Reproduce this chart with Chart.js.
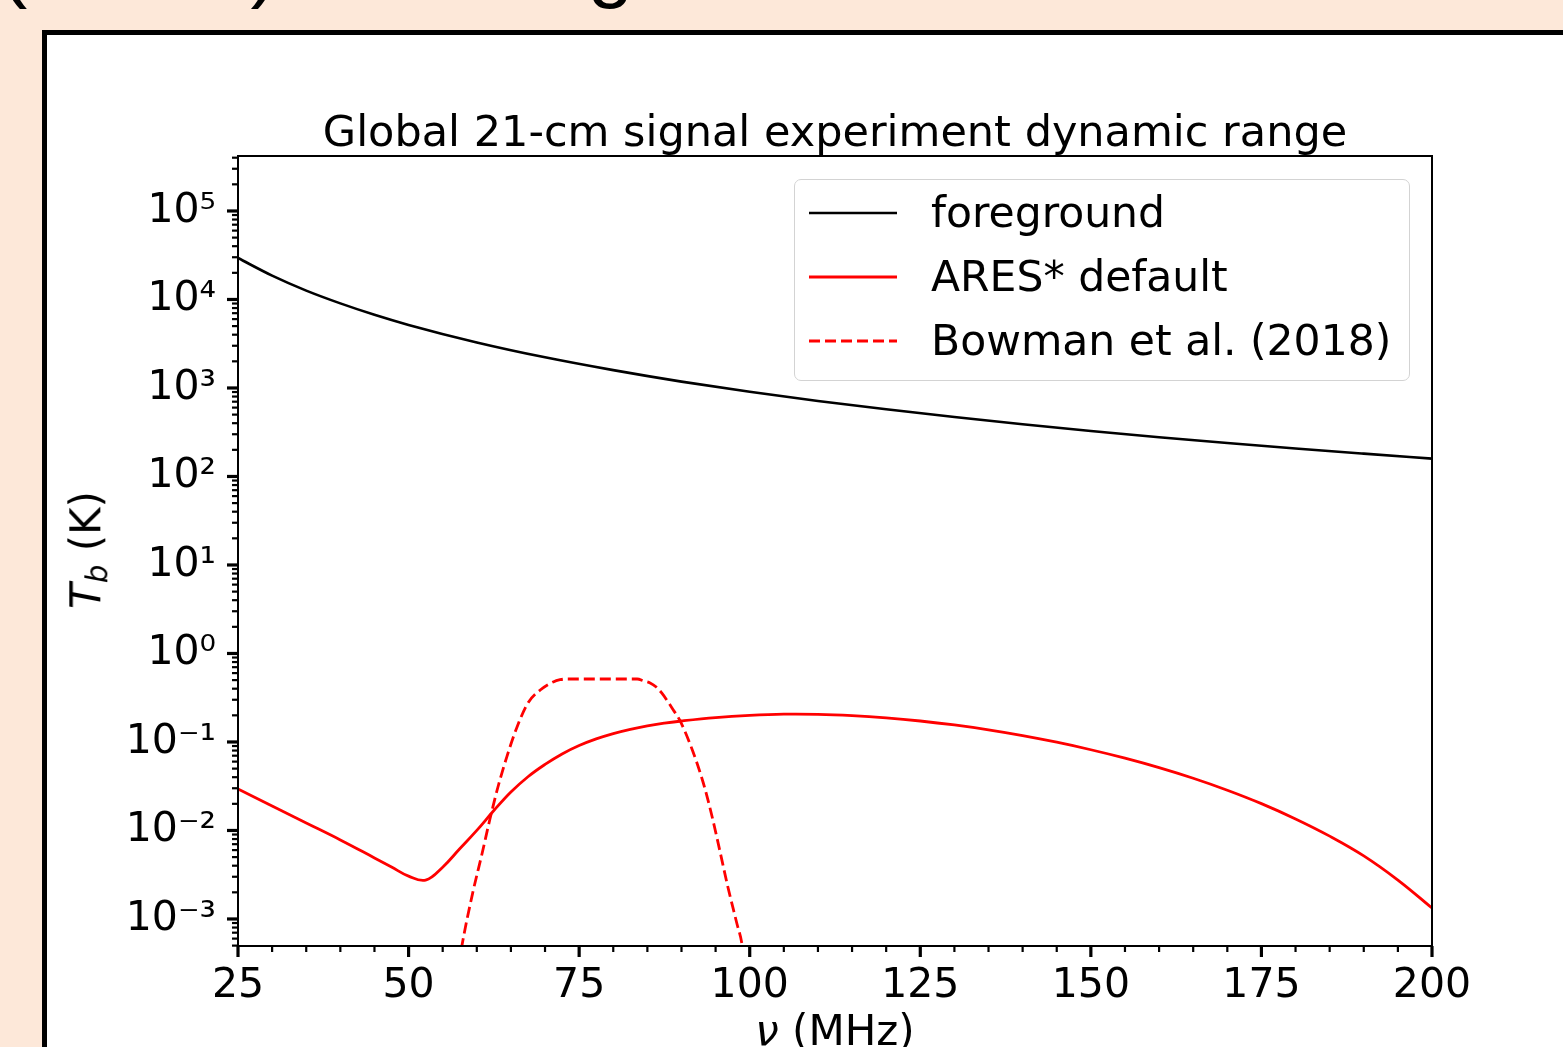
<!DOCTYPE html>
<html>
<head>
<meta charset="utf-8">
<script src="https://cdn.jsdelivr.net/npm/chart.js@4.4.1/dist/chart.umd.min.js"></script>
<style>
  html, body { margin: 0; padding: 0; width: 1563px; height: 1047px; overflow: hidden; background: #fde8d9; font-family: "DejaVu Sans", sans-serif; }
  #heading { position: absolute; left: 0px; top: -77px; font-family: "Liberation Sans", sans-serif; font-size: 82px; line-height: 82px; white-space: nowrap; color: #000; }
  #frame { position: absolute; left: 42px; top: 30px; width: 1600px; height: 1100px; border: 5px solid #000; background: #fff; }
  #chart { position: absolute; left: 0; top: 0; }
  #ytitle { position: absolute; left: 88px; top: 550px; transform: translate(-50%, -50%) rotate(-90deg); font-size: 42px; white-space: nowrap; color: #000; }
  #ytitle sub { font-size: 70%; vertical-align: -0.25em; }
  #xtitle { position: absolute; left: 835px; top: 1010px; transform: translateX(-50%); font-size: 42px; line-height: 42px; white-space: nowrap; color: #000; }
  #legend { position: absolute; left: 794px; top: 179px; width: 614px; height: 200px; border: 1.5px solid #d3d3d3; border-radius: 7px; background: rgba(255,255,255,0.8); }
  #legend .row { position: absolute; left: 0; height: 64px; display: flex; align-items: center; font-size: 42.5px; line-height: 64px; white-space: nowrap; color: #000; }
  #legend svg { margin-left: 14px; margin-right: 34px; }
</style>
</head>
<body>
<div id="heading">(ARES) modeling</div>
<div id="frame"></div>
<canvas id="chart" width="1563" height="1047"></canvas>
<div id="ytitle"><i>T</i><sub><i>b</i></sub> (K)</div>
<div id="xtitle"><i>ν</i> (MHz)</div>
<div id="legend"></div>
<script>
// foreground (power-law sky)
const fgFreq = [25, 30, 35, 40, 45, 50, 60, 70, 80, 90, 100, 110, 120, 130, 140, 150, 160, 170, 180, 190, 200];
const fgTemp = [29400, 18600, 12600, 9040, 6720, 5160, 3270, 2220, 1590, 1180, 906, 714, 574, 469, 389, 327, 278, 239, 207, 181, 159];

// ARES* default global signal (absolute value)
const aresFreq = [25, 30, 35, 40, 45, 47.5, 50, 52.5, 55, 57.5, 60, 62.5, 65, 67.5, 70, 72.5, 75, 77.5, 80, 82.5, 85, 87.5, 90,
    95, 100, 105, 110, 115, 120, 125, 130, 135, 140, 145, 150, 155, 160, 165, 170, 175, 180, 185, 190, 195, 200];
const aresTemp = [0.0294, 0.0189, 0.01216, 0.00782, 0.0049, 0.00387, 0.00305, 0.00275, 0.00385, 0.00622, 0.01002, 0.0168, 0.0272, 0.0405, 0.0558, 0.0733, 0.0912, 0.1084, 0.1245, 0.139, 0.152, 0.163, 0.1726,
    0.1884, 0.1995, 0.206, 0.2051, 0.1982, 0.1871, 0.1726, 0.1556, 0.1371, 0.118, 0.0993, 0.0817, 0.0656, 0.0513, 0.0389, 0.0285, 0.0201, 0.0135, 0.00863, 0.00516, 0.00275, 0.00133];

// Bowman et al. (2018) absorption profile (absolute value)
const bowFreq = [57, 57.8, 59.4, 60.8, 61.9, 63.1, 64.4, 65.9, 67.5, 69.3, 71.2, 72.2, 73.2, 78, 83.5, 84.5, 85.4, 86.3, 87.1, 88.8, 89.8, 91.7, 93.2, 94.5, 95.6, 96.8, 98.1, 98.9, 99.5];
const bowTemp = [0.0002, 0.00049, 0.00197, 0.0056, 0.0132, 0.031, 0.068, 0.148, 0.276, 0.387, 0.477, 0.505, 0.515, 0.515, 0.515, 0.489, 0.465, 0.418, 0.358, 0.230, 0.173, 0.077, 0.0344, 0.0142, 0.0060, 0.0023, 0.0009, 0.0005, 0.0002];

const seriesLabels = ['foreground', 'ARES* default', 'Bowman et al. (2018)'];

const xTickValues = [25, 50, 75, 100, 125, 150, 175, 200];
const yTickValues = [1e-3, 1e-2, 1e-1, 1e0, 1e1, 1e2, 1e3, 1e4, 1e5];
const yTickLabels = ['10⁻³', '10⁻²', '10⁻¹', '10⁰', '10¹', '10²', '10³', '10⁴', '10⁵'];

const FONT = '"DejaVu Sans", sans-serif';

function pairs(xs, ys) {
    return xs.map((x, i) => ({ x: x, y: ys[i] }));
}

// matplotlib-like outward ticks + box frame
const axisTicks = {
    id: 'axisTicks',
    afterDatasetsDraw(chart) {
        const { ctx, chartArea: a, scales } = chart;
        const x = scales.x, y = scales.y;
        ctx.save();
        ctx.strokeStyle = '#000';
        function xMark(v, len, w) {
            const p = x.getPixelForValue(v);
            ctx.lineWidth = w;
            ctx.beginPath(); ctx.moveTo(p, a.bottom); ctx.lineTo(p, a.bottom + len); ctx.stroke();
        }
        function yMark(v, len, w) {
            const p = y.getPixelForValue(v);
            ctx.lineWidth = w;
            ctx.beginPath(); ctx.moveTo(a.left, p); ctx.lineTo(a.left - len, p); ctx.stroke();
        }
        for (let v = x.min; v <= x.max; v += 5) {
            if (xTickValues.indexOf(v) < 0) xMark(v, 6, 2.2);
        }
        xTickValues.forEach(v => xMark(v, 11, 3.2));
        for (let k = -4; k <= 5; k++) {
            for (let m = 2; m <= 9; m++) {
                const v = m * Math.pow(10, k);
                if (v >= y.min && v <= y.max) yMark(v, 6, 2.2);
            }
        }
        yTickValues.forEach(v => yMark(v, 11, 3.2));
        ctx.lineWidth = 2;
        ctx.strokeRect(a.left, a.top, a.right - a.left, a.bottom - a.top);
        ctx.restore();
    }
};

const ctx = document.getElementById('chart').getContext('2d');
const chart = new Chart(ctx, {
    type: 'line',
    data: {
        datasets: [
            {
                label: seriesLabels[0],
                data: pairs(fgFreq, fgTemp),
                borderColor: '#000000',
                borderWidth: 2.6,
                pointRadius: 0,
                fill: false,
                cubicInterpolationMode: 'monotone'
            },
            {
                label: seriesLabels[1],
                data: pairs(aresFreq, aresTemp),
                borderColor: '#ff0000',
                borderWidth: 2.8,
                pointRadius: 0,
                fill: false,
                tension: 0.4
            },
            {
                label: seriesLabels[2],
                data: pairs(bowFreq, bowTemp),
                borderColor: '#ff0000',
                borderWidth: 2.8,
                borderDash: [11, 5],
                pointRadius: 0,
                fill: false,
                cubicInterpolationMode: 'monotone'
            }
        ]
    },
    options: {
        responsive: false,
        animation: false,
        events: [],
        layout: { padding: { left: 0, right: 131, top: 0, bottom: 0 } },
        plugins: {
            legend: { display: false },
            tooltip: { enabled: false },
            title: {
                display: true,
                fullSize: false,
                text: 'Global 21-cm signal experiment dynamic range',
                color: '#000',
                font: { family: FONT, size: 43, weight: 'normal', lineHeight: 1.0 },
                padding: { top: 113, bottom: 0 }
            }
        },
        scales: {
            x: {
                type: 'linear',
                min: 25,
                max: 200,
                grid: { display: false, drawTicks: true, tickLength: 11 },
                border: { display: false },
                afterBuildTicks: s => { s.ticks = xTickValues.map(v => ({ value: v })); },
                afterFit: s => { s.height = 101; },
                ticks: {
                    color: '#000',
                    font: { family: FONT, size: 41 },
                    padding: 5,
                    maxRotation: 0,
                    autoSkip: false,
                    callback: v => String(v)
                }
            },
            y: {
                type: 'logarithmic',
                min: 4.95e-4,
                max: 4.18e5,
                grid: { display: false, drawTicks: true, tickLength: 11 },
                border: { display: false },
                afterBuildTicks: s => { s.ticks = yTickValues.map(v => ({ value: v })); },
                afterFit: s => { s.width = 238; },
                ticks: {
                    color: '#000',
                    font: { family: FONT, size: 41 },
                    padding: 11,
                    autoSkip: false,
                    callback: (v, i) => yTickLabels[i]
                }
            }
        }
    },
    plugins: [axisTicks]
});

// legend box drawn in HTML from the datasets
const legendBox = document.getElementById('legend');
chart.data.datasets.forEach((ds, i) => {
    const row = document.createElement('div');
    row.className = 'row';
    row.style.top = (i * 64 + 1) + 'px';
    const dash = ds.borderDash ? ds.borderDash.join(',') : 'none';
    row.innerHTML = '<svg width="88" height="10"><line x1="0" y1="5" x2="88" y2="5" stroke="' + ds.borderColor +
        '" stroke-width="' + ds.borderWidth + '" stroke-dasharray="' + dash + '"/></svg><span>' + ds.label + '</span>';
    legendBox.appendChild(row);
});
</script>
</body>
</html>
